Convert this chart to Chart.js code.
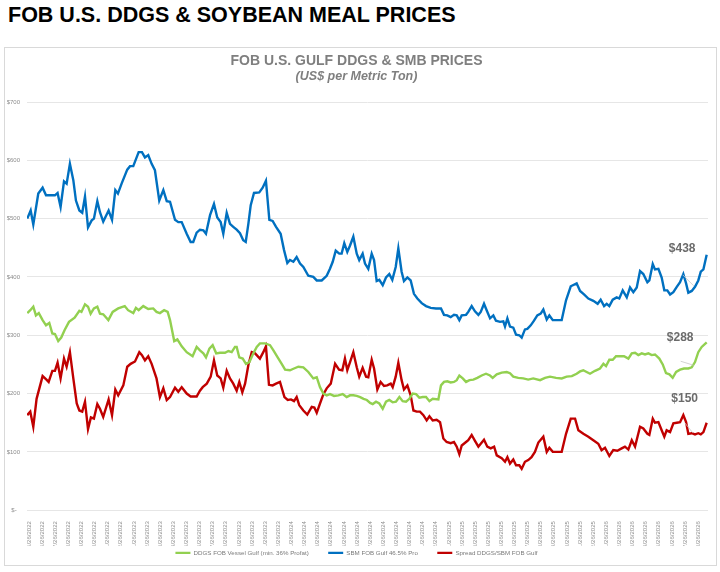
<!DOCTYPE html>
<html>
<head>
<meta charset="utf-8">
<script src="https://cdn.jsdelivr.net/npm/chart.js@4.4.1/dist/chart.umd.min.js"></script>
<style>
  html, body { margin: 0; padding: 0; background: #ffffff; }
  body { width: 720px; height: 572px; overflow: hidden; position: relative; font-family: "Liberation Sans", Arial, sans-serif; }
  #heading { position: absolute; left: 8px; top: 5px; font-size: 21.5px; line-height: 1; font-weight: bold; color: #000; white-space: nowrap; }
  #frame { position: absolute; left: 4px; top: 47px; width: 713px; height: 519px; border: 1px solid #d9d9d9; box-sizing: border-box; }
  #chart { position: absolute; left: 5px; top: 48px; }
</style>
</head>
<body>
<div id="heading">FOB U.S. DDGS &amp; SOYBEAN MEAL PRICES</div>
<div id="frame"></div>
<canvas id="chart" width="711" height="518" style="width:711px;height:518px"></canvas>
<script>
// ---- tick labels (monthly, x value = month offset from 5/26/2022) ----
const monthLabels = [
  '5/26/2022','6/26/2022','7/26/2022','8/26/2022','9/26/2022','10/26/2022','11/26/2022','12/26/2022',
  '1/26/2023','2/26/2023','3/26/2023','4/26/2023','5/26/2023','6/26/2023','7/26/2023','8/26/2023','9/26/2023','10/26/2023','11/26/2023','12/26/2023',
  '1/26/2024','2/26/2024','3/26/2024','4/26/2024','5/26/2024','6/26/2024','7/26/2024','8/26/2024','9/26/2024','10/26/2024','11/26/2024','12/26/2024',
  '1/26/2025','2/26/2025','3/26/2025','4/26/2025','5/26/2025','6/26/2025','7/26/2025','8/26/2025','9/26/2025','10/26/2025','11/26/2025','12/26/2025',
  '1/26/2026','2/26/2026','3/26/2026','4/26/2026','5/26/2026','6/26/2026','7/26/2026','8/26/2026'
];
const yTickValues = [0, 100, 200, 300, 400, 500, 600, 700];

const seriesNames = ['DDGS FOB Vessel Gulf (min. 36% Profat)', 'SBM FOB Gulf 46.5% Pro', 'Spread DDGS/SBM FOB Gulf'];

// ---- DDGS FOB Vessel Gulf ----
const ddgsT = [
  -0.13,0.1,0.33,0.53,0.75,1.04,1.3,1.55,1.78,1.98,
  2.23,2.46,2.72,3.05,3.48,3.84,4.0,4.27,4.5,4.7,
  4.95,5.21,5.41,5.66,6.05,6.38,6.8,7.3,7.55,7.95,
  8.15,8.36,8.71,9.09,9.47,9.72,9.98,10.3,10.57,10.75,
  11.07,11.31,11.64,12.02,12.47,12.78,13.03,13.29,13.49,13.75,
  14.0,14.27,14.56,14.94,15.2,15.45,15.7,15.83,16.03,16.29,
  16.54,16.8,17.1,17.36,17.6,18.0,18.37,18.63,18.93,19.26,
  19.52,19.89,20.2,20.53,20.91,21.29,21.67,21.93,22.18,22.44,
  22.69,22.94,23.25,23.58,23.91,24.21,24.47,24.72,24.98,25.24,
  25.5,25.75,26.0,26.2,26.45,26.7,26.96,27.21,27.46,27.72,
  27.97,28.23,28.48,28.74,28.99,29.24,29.5,29.75,30.01,30.26,
  30.52,30.77,31.2,31.4,31.63,31.88,32.14,32.39,32.6,32.8,
  33.06,33.31,33.57,33.87,34.17,34.5,34.83,35.14,35.34,35.65,
  36.03,36.41,36.66,36.91,37.29,37.67,38.05,38.43,38.95,39.33,
  39.71,40.17,40.6,40.98,41.37,41.74,42.0,42.25,42.5,42.76,
  43.14,43.52,43.78,43.98,44.23,44.49,44.74,45.05,45.35,45.68,
  45.94,46.19,46.44,46.7,46.95,47.21,47.46,47.71,48.04,48.3,
  48.55,48.81,49.06,49.32,49.62,49.92,50.25,50.51,50.76,51.01,
  51.27,51.65
];
const ddgsV = [
  338,343,349,334,338,326,317,321,303,302,
  290,296,309,323,330,342,340,353,349,337,
  346,349,337,336,326,340,346,350,343,338,
  347,343,350,345,346,340,338,343,340,326,
  290,293,281,271,264,280,274,269,262,277,
  283,269,270,270,273,271,280,280,262,260,
  251,254,269,280,286,286,283,274,263,251,
  241,240,243,246,245,237,226,228,211,200,
  197,199,196,197,199,194,197,197,196,194,
  191,189,184,182,186,183,174,186,189,185,
  186,194,187,186,191,200,199,193,194,194,
  187,191,190,214,220,221,219,220,223,231,
  226,220,223,224,227,231,234,231,227,233,
  236,237,235,229,227,226,224,226,223,227,
  229,227,226,229,230,234,238,240,237,234,
  239,243,251,247,258,258,264,264,264,260,
  269,270,266,269,267,269,266,267,260,250,
  235,233,227,237,241,243,243,245,254,271,
  280,288
];

// ---- SBM FOB Gulf 46.5% Pro ----
const sbmT = [
  -0.13,0.13,0.33,0.71,1.04,1.3,1.98,2.18,2.41,2.67,
  2.87,3.12,3.38,3.58,3.84,4.06,4.27,4.5,4.78,4.95,
  5.21,5.41,5.66,6.07,6.33,6.58,6.78,7.06,7.49,7.7,
  7.95,8.36,8.61,8.84,9.09,9.35,9.6,9.93,10.24,10.5,
  10.75,11.13,11.38,11.64,12.02,12.32,12.52,12.78,13.03,13.29,
  13.49,13.8,14.1,14.35,14.61,14.81,15.07,15.32,15.57,15.83,
  16.08,16.33,16.52,16.72,16.9,17.15,17.55,17.81,18.06,18.32,
  18.57,18.83,19.18,19.44,19.69,19.89,20.15,20.4,20.66,20.91,
  21.29,21.67,21.93,22.31,22.69,22.94,23.15,23.38,23.65,23.83,
  24.03,24.26,24.47,24.72,24.98,25.17,25.43,25.61,25.86,26.12,
  26.3,26.5,26.7,26.96,27.21,27.46,27.69,27.95,28.15,28.4,
  28.58,28.84,29.09,29.34,29.6,29.93,30.26,30.62,31.02,31.4,
  31.63,31.88,32.14,32.39,32.6,32.8,32.98,33.31,33.48,33.74,
  33.99,34.25,34.43,34.68,34.88,35.14,35.39,35.59,35.9,36.15,
  36.28,36.46,36.66,36.91,37.12,37.37,37.55,37.8,37.98,38.24,
  38.49,38.74,39.0,39.2,39.46,39.66,39.92,40.22,40.6,40.93,
  41.29,41.74,42.0,42.3,42.63,43.01,43.34,43.57,43.83,44.03,
  44.23,44.49,44.79,44.99,45.25,45.56,45.81,46.06,46.32,46.57,
  46.82,47.13,47.28,47.54,47.71,47.97,48.22,48.42,48.65,48.86,
  49.11,49.37,49.62,49.87,50.08,50.25,50.51,50.76,51.01,51.2,
  51.4,51.65
];
const sbmV = [
  500,514,490,543,553,540,540,544,520,564,
  560,594,566,531,514,510,538,485,497,500,
  530,511,495,514,498,549,543,560,584,590,
  590,614,614,605,609,594,583,531,549,530,
  529,498,494,494,474,460,460,476,481,480,
  474,506,525,502,494,474,510,491,486,481,
  475,463,460,491,523,544,545,553,565,498,
  496,486,474,446,424,429,426,434,423,417,
  402,400,394,394,402,414,426,445,440,440,
  458,443,454,469,440,429,440,423,414,440,
  429,393,395,386,399,405,395,417,449,409,
  393,399,394,371,363,355,350,347,346,346,
  335,334,331,335,334,326,334,335,340,350,
  341,335,340,354,343,329,334,325,323,324,
  315,329,315,313,301,300,296,310,311,317,
  325,334,337,344,327,334,326,326,326,360,
  384,389,376,370,363,359,354,361,350,354,
  350,361,365,363,377,365,382,374,382,410,
  405,391,394,422,413,414,399,377,377,370,
  374,383,391,405,389,373,376,383,394,409,
  413,438
];

// ---- Spread DDGS/SBM FOB Gulf ----
const spreadT = [
  -0.13,0.1,0.33,0.58,1.04,1.33,1.5,1.78,1.98,2.18,
  2.41,2.67,2.87,3.12,3.38,3.64,3.84,4.06,4.27,4.5,
  4.72,4.95,5.21,5.41,5.66,6.07,6.33,6.58,6.8,7.19,
  7.49,7.75,8.08,8.41,8.61,8.84,9.09,9.35,9.72,9.98,
  10.24,10.5,10.75,11.13,11.38,11.64,12.02,12.32,12.78,13.03,
  13.24,13.55,13.85,14.1,14.35,14.61,14.81,15.07,15.32,15.57,
  15.83,16.03,16.26,16.47,16.72,16.98,17.23,17.6,17.86,18.06,
  18.29,18.57,18.83,19.13,19.47,19.72,19.97,20.2,20.4,20.6,
  20.91,21.21,21.55,21.75,21.93,22.18,22.44,22.69,23.0,23.33,
  23.63,23.88,24.08,24.26,24.47,24.72,24.98,25.17,25.43,25.69,
  25.86,26.12,26.3,26.55,26.8,27.06,27.3,27.57,27.72,27.95,
  28.15,28.4,28.58,28.84,29.09,29.3,29.55,29.8,30.06,30.31,
  30.52,30.77,31.07,31.33,31.58,31.83,32.14,32.39,32.6,32.8,
  32.98,33.31,33.48,33.74,33.99,34.25,34.43,34.68,34.93,35.19,
  35.45,35.65,36.03,36.28,36.46,36.66,36.91,37.12,37.37,37.55,
  37.8,38.05,38.3,38.56,38.82,39.2,39.46,39.66,39.92,40.6,
  40.93,41.29,41.62,41.87,42.25,42.63,43.01,43.39,43.64,43.9,
  44.23,44.53,44.84,45.17,45.42,45.68,45.94,46.19,46.57,46.82,
  47.13,47.28,47.54,47.71,47.97,48.22,48.42,48.6,48.86,49.11,
  49.37,49.62,49.87,50.08,50.25,50.51,50.76,51.01,51.2,51.4,
  51.65
];
const spreadV = [
  163,169,143,191,230,224,220,239,239,253,
  226,260,246,271,226,183,171,169,186,139,
  159,157,182,174,160,190,163,207,197,214,
  246,251,255,271,266,257,264,251,226,194,
  209,189,194,210,203,211,200,195,195,205,
  211,217,229,257,231,226,210,239,226,217,
  205,220,202,217,249,271,269,260,271,281,
  215,214,217,220,194,189,190,187,194,180,
  171,164,177,176,167,183,199,209,217,251,
  241,240,260,240,254,271,245,229,244,229,
  228,258,243,207,220,213,214,217,211,229,
  253,223,207,214,197,171,169,169,163,154,
  161,154,155,151,123,117,115,117,109,96,
  111,117,120,129,119,109,114,121,109,106,
  109,94,89,83,91,80,87,77,77,71,
  83,86,91,100,116,126,100,107,100,100,
  131,157,157,137,131,126,120,114,103,107,
  93,103,102,106,109,104,120,109,143,140,
  131,129,157,150,151,137,126,137,134,149,
  150,151,163,151,131,132,130,132,130,134,
  150
];

// ---- styling (not data) ----
const FONT = '"Liberation Sans", Arial, sans-serif';
const seriesColors = ['#92D050', '#0070C0', '#C00000'];
// end-label offsets in px relative to the last point of each series, and leader line offsets
const endLabelOffsets = [[-26.5, -4.5], [-24.5, -6.5], [-22, -24]];
const leaderOffsets = [[[-26, 19], [-13, 23]], [[-24, 20], [-13, 31]], [[-22, 0], [-14, 10]]];
const legendGap = '\u00a0'.repeat(9);

function pts(t, v) { return t.map((x, i) => ({ x: x, y: v[i] })); }

const endLabels = {
  id: 'endLabels',
  afterDatasetsDraw(chart) {
    const ctx = chart.ctx, xs = chart.scales.x, ys = chart.scales.y;
    ctx.save();
    chart.data.datasets.forEach((ds, i) => {
      const last = ds.data[ds.data.length - 1];
      const px = xs.getPixelForValue(last.x), py = ys.getPixelForValue(last.y);
      const lo = leaderOffsets[i];
      ctx.strokeStyle = '#c8c8c8';
      ctx.lineWidth = 0.8;
      ctx.beginPath();
      ctx.moveTo(px + lo[0][0], py + lo[0][1]);
      ctx.lineTo(px + lo[1][0], py + lo[1][1]);
      ctx.stroke();
      const o = endLabelOffsets[i];
      ctx.font = 'bold 12px ' + FONT;
      ctx.fillStyle = '#6b6b6b';
      ctx.textAlign = 'center';
      ctx.textBaseline = 'middle';
      ctx.fillText('$' + last.y, px + o[0], py + o[1]);
    });
    ctx.restore();
  }
};

const datasets = [
  { label: seriesNames[0], data: pts(ddgsT, ddgsV), borderColor: seriesColors[0], backgroundColor: seriesColors[0] },
  { label: seriesNames[1], data: pts(sbmT, sbmV), borderColor: seriesColors[1], backgroundColor: seriesColors[1] },
  { label: seriesNames[2], data: pts(spreadT, spreadV), borderColor: seriesColors[2], backgroundColor: seriesColors[2] }
].map(d => Object.assign(d, { borderWidth: 2.4, pointRadius: 0, tension: 0, fill: false }));

new Chart(document.getElementById('chart'), {
  type: 'line',
  data: { datasets },
  plugins: [endLabels],
  options: {
    responsive: false,
    animation: false,
    devicePixelRatio: 1,
    layout: { padding: { left: 0, right: 8, top: 0, bottom: 0 } },
    plugins: {
      title: {
        display: true, text: 'FOB U.S. GULF DDGS & SMB PRICES', color: '#7f7f7f',
        font: { family: FONT, size: 14, weight: 'bold' }, padding: { top: 4.6, bottom: 0 }
      },
      subtitle: {
        display: true, text: '(US$ per Metric Ton)', color: '#7f7f7f',
        font: { family: FONT, size: 12.5, weight: 'bold', style: 'italic' }, padding: { top: 0, bottom: 17.6 }
      },
      legend: {
        position: 'bottom',
        labels: {
          usePointStyle: true, pointStyle: 'line', pointStyleWidth: 15, boxHeight: 6,
          font: { family: FONT, size: 6.2 }, color: '#7a7a7a', padding: 4,
          generateLabels: chart => {
            const items = Chart.defaults.plugins.legend.labels.generateLabels(chart);
            items.forEach((it, i) => { if (i < items.length - 1) it.text = it.text + legendGap; });
            return items;
          }
        }
      },
      tooltip: { enabled: false }
    },
    scales: {
      x: {
        type: 'linear', min: -0.15, max: 51.75,
        grid: { display: false }, border: { display: false },
        afterBuildTicks: s => { s.ticks = monthLabels.map((_, i) => ({ value: i })); },
        afterFit: s => { s.height = 35.6; },
        ticks: {
          autoSkip: false, minRotation: 90, maxRotation: 90, padding: 3,
          font: { family: FONT, size: 6 }, color: '#8c8c8c',
          callback: (v, i) => monthLabels[i]
        }
      },
      y: {
        min: 0, max: 700,
        afterBuildTicks: s => { s.ticks = yTickValues.map(v => ({ value: v })); },
        afterFit: s => { s.width = 22; },
        grid: { color: '#e6e6e6', lineWidth: 1, drawTicks: false },
        border: { display: false },
        ticks: {
          padding: 7, font: { family: FONT, size: 6 }, color: '#8c8c8c',
          callback: v => v === 0 ? '$-  ' : '$' + v
        }
      }
    }
  }
});
</script>
</body>
</html>
